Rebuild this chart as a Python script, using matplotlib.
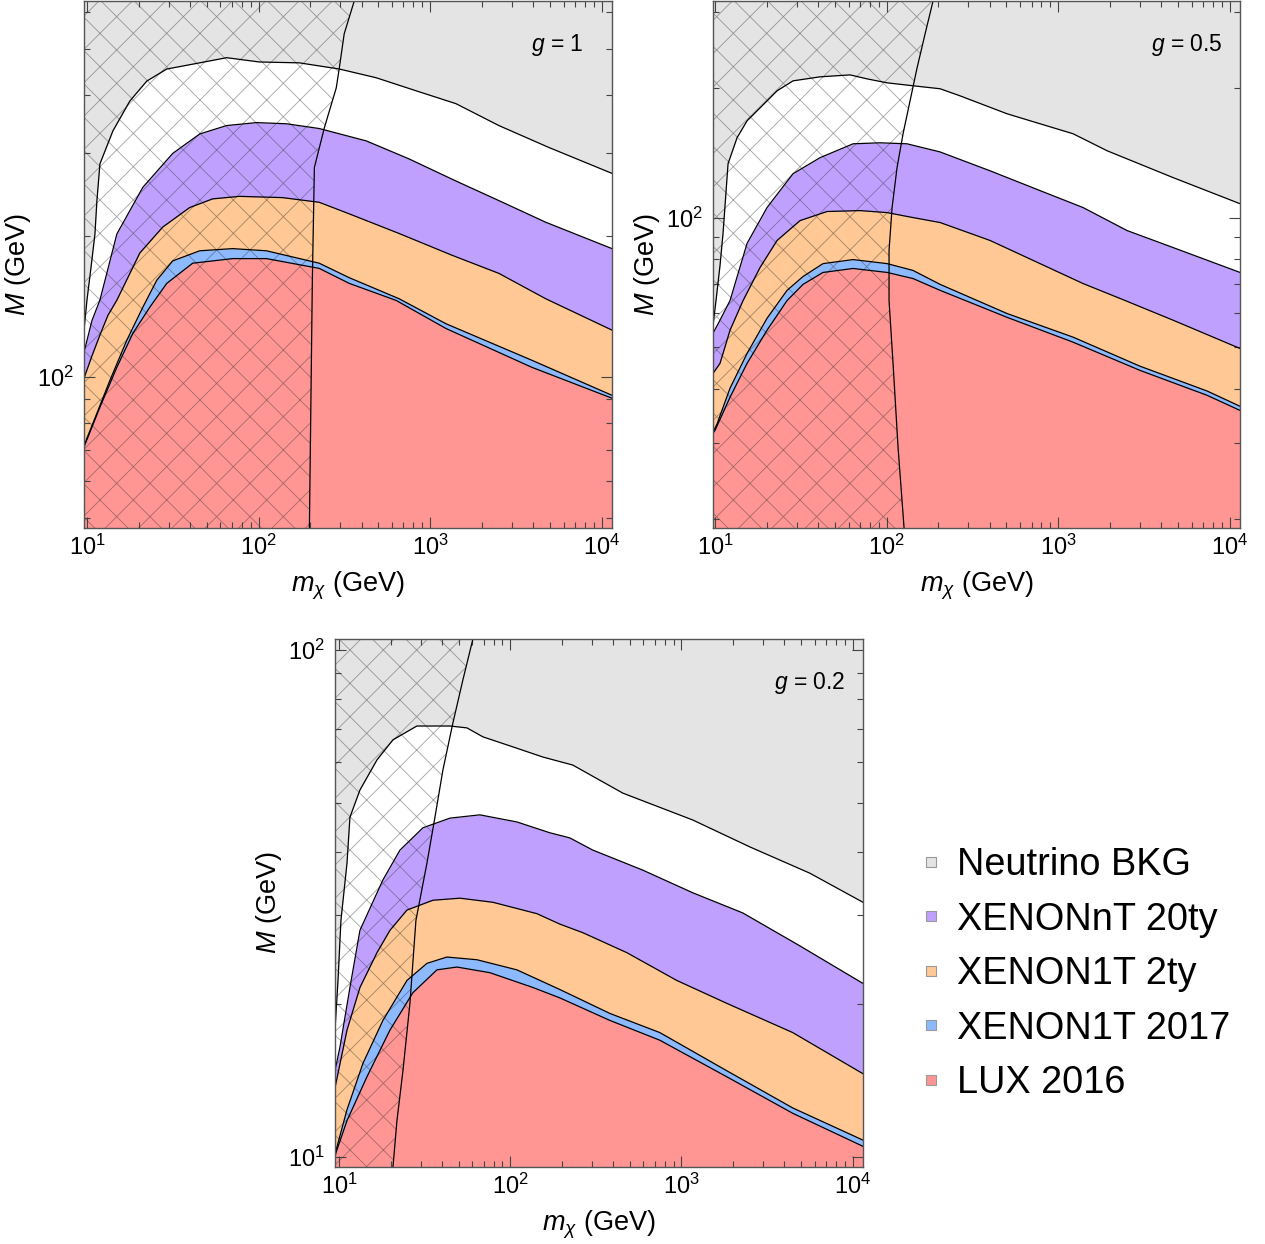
import matplotlib
matplotlib.use('Agg')
import matplotlib.pyplot as plt
import numpy as np
from matplotlib.lines import Line2D
from matplotlib.ticker import FixedLocator, LogLocator, NullFormatter, FuncFormatter

plt.rcParams['font.family'] = ['Liberation Sans', 'DejaVu Sans']
plt.rcParams['mathtext.fontset'] = 'custom'
plt.rcParams['mathtext.rm'] = 'Liberation Sans'
plt.rcParams['mathtext.it'] = 'Liberation Sans:italic'
plt.rcParams['hatch.linewidth'] = 0.6

labels = ['Neutrino BKG', 'XENONnT 20ty', 'XENON1T 2ty', 'XENON1T 2017', 'LUX 2016']
colors = ['#e4e4e4', '#bfa0ff', '#ffc894', '#8db9ff', '#ff9694']

# curves are (m_chi, M) in GeV

# g = 1
p1_nu = [(9.61, 126), (10.0, 146), (10.55, 171), (11.13, 202), (11.43, 238), (11.9, 285),
         (14.16, 335), (17.78, 388), (22.33, 428), (29.18, 454), (45.4, 468), (65.2, 480),
         (101, 470), (173, 468), (296, 454), (485, 435), (829, 408), (1416, 383),
         (2518, 344), (4917, 309), (11500, 272)]
p1_nT = [(9.61, 113), (10.69, 132), (11.9, 146), (14.94, 202), (21.17, 254), (31.62, 300),
         (45.4, 330), (65.2, 344), (97.4, 349), (145.5, 347), (226, 339), (425, 319),
         (755, 292), (1416, 262), (2518, 238), (4724, 214), (11500, 188)]
p1_2ty = [(9.61, 99.5), (10.69, 111), (11.9, 123), (13.25, 135.5), (14.94, 146), (20.33, 184),
          (27.66, 209), (39.7, 230), (54, 240), (77.5, 243), (137.9, 241.5), (226, 236),
          (338, 223), (660, 202.5), (1342, 182), (2518, 166.5), (4724, 147), (11500, 126)]
p1_x17 = [(9.61, 71.5), (11.43, 83.8), (13.61, 98.5), (17.09, 120), (21.17, 141), (25.53, 161),
          (31.62, 177), (45.4, 186), (70.6, 188), (111.3, 186), (226, 175), (338, 163),
          (660, 147), (1239, 130), (3917, 108.7), (11500, 91.5)]
p1_lux = [(9.61, 71), (11.9, 86.3), (14.94, 105), (18.51, 124), (23.24, 141), (29.18, 158.5),
          (41.3, 175), (70.6, 179), (111.3, 179), (226, 170.6), (338, 158.5), (634, 145.8),
          (1239, 127), (3917, 105), (11500, 90.2)]
p1_col = [(198, 47.7), (206, 161), (211.7, 280), (241.9, 340), (284, 414), (296, 457),
          (316, 540), (361.5, 634)]

# g = 0.5
p2_nu = [(9.73, 56.2), (10.13, 64.2), (10.69, 77.4), (11.13, 91.8), (11.91, 133.4), (13.44, 153.2),
         (15.37, 167.7), (18.3, 179.7), (22.99, 196.8), (28.5, 207.6), (40.95, 212.1), (61.27, 214.3),
         (76.96, 209.8), (100.7, 205.4), (142.7, 202.2), (205.1, 199), (268.3, 191.6), (504.3, 174.1),
         (898, 162.4), (1223, 156.5), (1931, 142.9), (4685, 123.8), (11500, 107.7)]
p2_nT = [(9.73, 53.9), (10.69, 57.8), (12.23, 64.2), (15.37, 87.1), (20.1, 105.5), (28.5, 126.4),
         (40.95, 137.7), (63.8, 148.3), (91.6, 149.1), (131.7, 148.3), (205.1, 142), (401, 128.4),
         (785, 115.5), (1399, 105.5), (2526, 93.3), (4685, 85.2), (11500, 74.6)]
p2_2ty = [(9.73, 43.5), (10.69, 45.9), (12.23, 54.8), (14.57, 64.2), (18.3, 76.6), (22.99, 88.5),
          (31.3, 98.4), (45.0, 103.3), (70, 103.8), (100.7, 102.7), (142.7, 100), (205.1, 97.4),
          (401, 88.5), (785, 78.2), (1399, 70.3), (2393, 64.5), (4685, 57.8), (11500, 49.7)]
p2_x17 = [(9.73, 31.8), (10.27, 33.2), (12.23, 40.2), (15.37, 48.4), (20.1, 58.4), (26.3, 67.8),
          (32.6, 73.0), (42.6, 78.2), (63.8, 79.9), (100.7, 78.2), (142.7, 75.4), (205.1, 70.0),
          (504, 59.9), (1223, 52.8), (3008, 45.2), (7392, 39.6), (11500, 36.5)]
p2_lux = [(9.73, 31.6), (10, 32.1), (12.23, 38.3), (15.37, 45.9), (20.1, 54.8), (26.3, 64.2),
          (32.6, 70.0), (42.6, 74.6), (63.8, 76.2), (100.7, 74.6), (142.7, 72.2), (205.1, 67.8),
          (504, 58.7), (1223, 51.4), (3008, 44.2), (7392, 38.7), (11500, 35.7)]
p2_col = [(126.5, 19.05), (116.7, 29.3), (109.1, 45.9), (103.4, 64.2), (103.4, 83.9), (107.7, 105.5),
          (115.1, 130.5), (124.8, 156.5), (137.1, 186.6), (150.6, 222.4), (167.7, 266.7), (186.7, 318)]

# g = 0.2
p3_nu = [(9.48, 17.8), (9.87, 22.3), (10.27, 29.3), (11.14, 38.0), (11.59, 46.8), (13.26, 52.95),
         (16.67, 60.7), (20.67, 66.5), (28.5, 70.8), (44.5, 70.8), (55.9, 70.2), (69.3, 67.4),
         (103.7, 64.4), (155.2, 61.5), (232, 59.3), (455, 52.2), (1166, 46.2), (2508, 40.9),
         (5618, 36.3), (11500, 31.8)]
p3_nT = [(9.48, 14.8), (10.14, 16.5), (11.59, 21.6), (13.26, 28.0), (18.06, 35.2), (22.71, 40.3),
         (30.93, 44.6), (44.5, 46.6), (66.5, 47.3), (109.4, 45.8), (170.5, 43.6), (223, 42.6),
         (304, 40.3), (595, 36.8), (1166, 33.2), (2283, 30.3), (4912, 26.1), (11500, 22.0)]
p3_2ty = [(9.48, 13.7), (11.14, 17.8), (13.26, 21.6), (16.67, 25.3), (19.85, 28.0), (24.95, 30.7),
          (35.4, 32.1), (50.9, 32.4), (79.3, 31.8), (143.2, 30.2), (195.1, 28.8), (265.7, 27.7),
          (480, 25.3), (940, 22.3), (1841, 20.1), (4470, 17.6), (11500, 14.6)]
p3_x17 = [(9.48, 10.05), (9.6, 10.3), (11.14, 12.4), (13.8, 15.3), (18.06, 18.6), (24.95, 22.3),
          (32.65, 24.1), (42.7, 24.8), (63.9, 24.5), (109.4, 23.4), (195.1, 21.4), (382, 19.2),
          (748, 17.6), (1841, 14.8), (4470, 12.5), (11500, 10.8)]
p3_lux = [(9.48, 10.0), (9.6, 10.2), (11.14, 11.8), (14.57, 14.4), (19.85, 17.8), (27.04, 21.1),
          (37.35, 23.4), (48.85, 23.7), (76.1, 23.1), (135.7, 21.6), (195.1, 20.6), (382, 18.6),
          (748, 17.0), (1841, 14.4), (4470, 12.2), (11500, 10.5)]
p3_col = [(20.67, 9.56), (21.81, 11.8), (23.64, 14.8), (25.97, 20.1), (28.15, 29.3), (32.65, 38.0),
          (36.36, 46.8), (40.47, 58.0), (46.29, 71.8), (52.95, 87.3), (60.57, 105.1)]

panels = [
    dict(curves=[p1_nu, p1_nT, p1_2ty, p1_x17, p1_lux], col=p1_col, g='1',
         xlim=(9.61, 11500), ylim=(47.7, 634), rect=[84, 1, 612, 528], gx=0.945),
    dict(curves=[p2_nu, p2_nT, p2_2ty, p2_x17, p2_lux], col=p2_col, g='0.5',
         xlim=(9.73, 11500), ylim=(19.05, 318), rect=[713, 1, 1240, 528], gx=0.967),
    dict(curves=[p3_nu, p3_nT, p3_2ty, p3_x17, p3_lux], col=p3_col, g='0.2',
         xlim=(9.48, 11500), ylim=(9.56, 105.1), rect=[335, 639, 863, 1167], gx=0.966),
]

W, H = 1265, 1244
fig = plt.figure(figsize=(W / 100, H / 100), dpi=100)

def pow_fmt(v, _):
    return r'$\mathregular{10^{%d}}$' % round(np.log10(v))

fills = ['white'] + colors[1:]
for p in panels:
    l, t, r, b = p['rect']
    ax = fig.add_axes([l / W, 1 - b / H, (r - l) / W, (b - t) / H])
    ax.set_xscale('log')
    ax.set_yscale('log')
    ax.set_facecolor(colors[0])
    y0, y1 = p['ylim']
    for c, fc in zip(p['curves'], fills):
        x, y = np.array(c).T
        ax.fill_between(x, y, y0 / 2, color=fc, lw=0, zorder=1)
    for c in p['curves']:
        x, y = np.array(c).T
        ax.plot(x, y, color='k', lw=0.9, zorder=3, solid_joinstyle='round')
    cx, cy = np.array(p['col']).T
    order = np.argsort(cy)
    cx, cy = cx[order], cy[order]
    cyy = np.concatenate(([y0 / 2], cy, [y1 * 2]))
    cxx = np.concatenate(([cx[0]], cx, [cx[-1]]))
    ax.fill_betweenx(cyy, p['xlim'][0] / 2, cxx, facecolor='none',
                     edgecolor=(0.2, 0.2, 0.2, 0.45), hatch='x', lw=0, zorder=2)
    ax.plot(cxx, cyy, color='k', lw=0.9, zorder=3)

    ax.set_xlim(*p['xlim'])
    ax.set_ylim(y0, y1)
    for axis in (ax.xaxis, ax.yaxis):
        axis.set_major_locator(FixedLocator([10, 100, 1000, 10000]))
        axis.set_major_formatter(FuncFormatter(pow_fmt))
        axis.set_minor_locator(LogLocator(base=10, subs=np.arange(2, 10), numticks=20))
        axis.set_minor_formatter(NullFormatter())
    ax.tick_params(which='both', direction='in', top=True, right=True,
                   color='#444', labelsize=17, width=0.8)
    ax.tick_params(which='major', length=8)
    ax.tick_params(which='minor', length=4.5)
    ax.tick_params(axis='x', pad=5)
    ax.tick_params(axis='y', pad=7)
    for s in ax.spines.values():
        s.set_color('#555')
        s.set_linewidth(1.0)
        s.set_zorder(5)
    ax.set_xlabel(r'$m_\chi$ (GeV)', fontsize=19.5, labelpad=7)
    ax.set_ylabel(r'$M$ (GeV)', fontsize=19.5, labelpad=3)
    ax.text(p['gx'], 0.917, r'$g$ = ' + p['g'], transform=ax.transAxes,
            ha='right', va='center', fontsize=16.5, zorder=6)

handles = [Line2D([], [], marker='s', ls='none', markersize=7, markerfacecolor=c,
                  markeredgecolor='#999', markeredgewidth=0.8) for c in colors]
fig.legend(handles, labels, loc='upper left', bbox_to_anchor=(922 / W, 1 - 847 / H),
           frameon=False, fontsize=27.3, handlelength=0.5, handletextpad=0.42,
           labelspacing=0.49, borderpad=0, borderaxespad=0)

fig.savefig('out.png', dpi=100)
